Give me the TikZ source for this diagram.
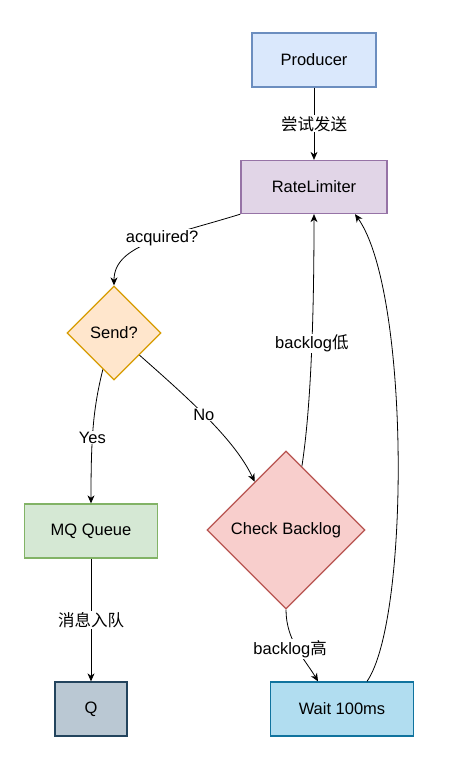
\documentclass[tikz,border=0pt]{standalone}
\usepackage{fontspec}
\setmainfont{Liberation Sans}
\newfontfamily\cjk{Noto Sans CJK SC}
\usetikzlibrary{shapes.geometric}
\usetikzlibrary{arrows.meta}
\definecolor{bluef}{HTML}{DAE8FC}\definecolor{blued}{HTML}{6C8EBF}
\definecolor{purpf}{HTML}{E1D5E7}\definecolor{purpd}{HTML}{9673A6}
\definecolor{orngf}{HTML}{FFE6CC}\definecolor{orngd}{HTML}{D79B00}
\definecolor{grenf}{HTML}{D5E8D4}\definecolor{grend}{HTML}{82B366}
\definecolor{redf}{HTML}{F8CECC}\definecolor{redd}{HTML}{B85450}
\definecolor{slatf}{HTML}{BAC8D3}\definecolor{slatd}{HTML}{23445D}
\definecolor{cyanf}{HTML}{B1DDF0}\definecolor{cyand}{HTML}{10739E}
\tikzset{
    mynode/.style = {rectangle, line width=1.3pt, align=center, inner sep=0pt, minimum height=54pt, font=\fontsize{16.5}{19}\selectfont, text=black},
    mynodeb/.style = {mynode, draw=blued, fill=bluef},
    mynodep/.style = {mynode, draw=purpd, fill=purpf},
    mynodeg/.style = {mynode, draw=grend, fill=grenf},
    mynodes/.style = {mynode, draw=slatd, fill=slatf},
    mynodec/.style = {mynode, draw=cyand, fill=cyanf},
    mydiam/.style = {diamond, aspect=1, line width=1.3pt, align=center, inner sep=0pt, font=\fontsize{16.5}{19}\selectfont, text=black},
    mydiamo/.style = {mydiam, draw=orngd, fill=orngf, minimum width=94pt, minimum height=94pt},
    mydiamr/.style = {mydiam, draw=redd, fill=redf, minimum width=158pt, minimum height=158pt},
    edgen/.style = {-{Stealth[length=8pt,width=7pt,inset=2.5pt]}, line width=0.8pt, black},
    elabel/.style = {fill=white, inner sep=1pt, font=\fontsize{16.5}{19}\selectfont, text=black}
}
\begin{document}
\begin{tikzpicture}[x=1pt,y=-1pt]
\useasboundingbox (0,0) rectangle (450,778);
%
\node[mynodeb, minimum width=124pt] at (314,60) (pr) {Producer};
\node[mynodep, minimum width=146pt, minimum height=53pt] at (314,187) (rl) {RateLimiter};
\node[mydiamo] at (114,333) (sd) {Send?};
\node[mynodeg, minimum width=133pt] at (91,531) (mq) {MQ Queue};
\node[mydiamr] at (286,530) (cb) {Check Backlog};
\node[mynodes, minimum width=72pt] at (91,709) (q) {Q};
\node[mynodec, minimum width=143pt] at (342,709) (wt) {Wait 100ms};
%
\draw[edgen] (pr) -- node[elabel] {\cjk 尝试发送} (rl);
\draw[edgen] (rl.south west) .. controls +(-71,22) and +(0,-41) .. node[elabel, pos=0.42] {acquired?} (sd.north);
\draw[edgen] (sd.-107) .. controls +(-10,40) and +(0,-64) .. node[elabel, pos=0.58] {Yes} (mq.north);
\draw[edgen] (sd.-41) .. controls +(51,45) and +(-20,-42) .. node[elabel, pos=0.46] {No} (cb.123);
\draw[edgen] (cb.76) .. controls +(10,-65) and +(0,87) .. node[elabel, pos=0.52] {backlog{\cjk 低}} (rl.south);
\draw[edgen] (mq) -- node[elabel] {\cjk 消息入队} (q);
\draw[edgen] (cb.south) .. controls +(0,31) and +(-13,-22) .. node[elabel, pos=0.5, xshift=-7pt] {backlog{\cjk 高}} ([xshift=-24pt]wt.north);
\draw[edgen] ([xshift=25pt]wt.north) .. controls +(43,-62) and +(55,77) .. ([xshift=41pt]rl.south);
\end{tikzpicture}
\end{document}
